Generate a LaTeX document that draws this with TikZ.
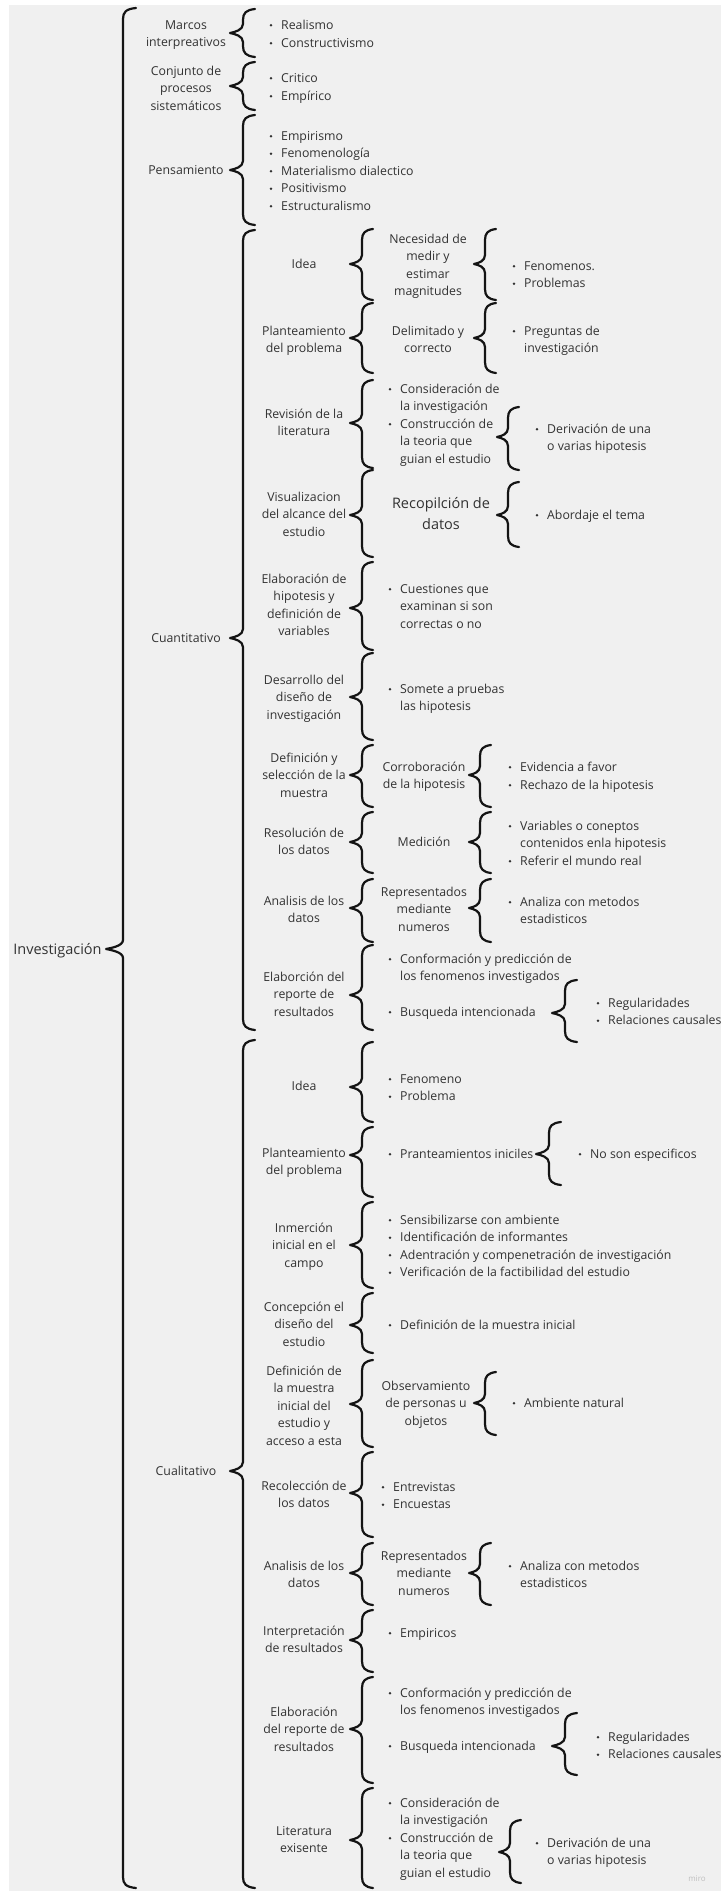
\documentclass[tikz,border=0pt]{standalone}
\usepackage{fontspec}
\setmainfont{Open Sans}
\definecolor{bgc}{RGB}{240,240,240}
\definecolor{txtc}{RGB}{50,50,50}
\definecolor{brcc}{RGB}{20,20,20}
\tikzset{
  lbl/.style={inner sep=0pt, text=txtc, font=\fontsize{12.3}{17.5}\selectfont},
  biglbl/.style={inner sep=0pt, text=txtc, font=\fontsize{14.5}{21}\selectfont},
  brc/.style={draw=brcc, line width=2.2pt, line cap=round, line join=round},
  dot/.style={circle, fill=txtc, inner sep=0pt, minimum size=2.6pt},
}
% centred multi-line label: name, x, first baseline, {line,line,...}
\newcommand\mylabs[4]{\foreach \t [count=\i] in {#4}{\node[lbl,anchor=base] (#1\i) at (#2,{#3+(\i-1)*17.5}) {\t};}}
% bullet item: name, text x, baseline, text
\newcommand\mybul[4]{\node[lbl,anchor=base west] (#1) at (#2,#3) {#4};\node[dot] (#1b) at (#2-10,#3-3.8) {};}
% continuation line
\newcommand\mycont[4]{\node[lbl,anchor=base west] (#1) at (#2,#3) {#4};}
% brace: name, v, y1, ytip, y2, depth, hook
\newcommand\mybrace[7]{%
  \draw[brc] (#2+#7,#3) .. controls (#2+3,#3+1) and (#2,#3+4) .. (#2,#3+11)
    -- (#2,#4-9) .. controls (#2,#4-3) and (#2-#6+5,#4-1) .. (#2-#6,#4)
    .. controls (#2-#6+5,#4+1) and (#2,#4+3) .. (#2,#4+9)
    -- (#2,#5-11) .. controls (#2,#5-4) and (#2+3,#5-1) .. (#2+#7,#5);
  \coordinate (#1) at (#2-#6,#4);}
\begin{document}
\begin{tikzpicture}[x=1pt,y=-1pt]
\useasboundingbox (0,0) rectangle (721,1891);
\fill[white] (0,0) rectangle (721,1891);
\fill[bgc] (9,5) rectangle (721,1891);

% ---- root ----
\node[biglbl,anchor=base] (inv) at (57.5,954) {Investigación};
\mybrace{binv}{123}{8}{949}{1888}{17}{13}

% ---- column 1 ----
\mylabs{mar}{186}{29}{Marcos,interpreativos}
\mybrace{bmar}{243}{9}{33}{57}{13}{12}
\mybul{i1}{281}{29}{Realismo}
\mybul{i2}{281}{47}{Constructivismo}

\mylabs{con}{186}{75}{Conjunto de,procesos,sistemáticos}
\mybrace{bcon}{243}{62}{86}{110}{13}{12}
\mybul{i3}{281}{82}{Critico}
\mybul{i4}{281}{100}{Empírico}

\mylabs{pen}{186}{174}{Pensamiento}
\mybrace{bpen}{243}{115}{170}{225}{13}{12}
\mybul{i5}{281}{140}{Empirismo}
\mybul{i6}{281}{157.5}{Fenomenología}
\mybul{i7}{281}{175}{Materialismo dialectico}
\mybul{i8}{281}{192.5}{Positivismo}
\mybul{i9}{281}{210}{Estructuralismo}

\mylabs{cuant}{186}{642}{Cuantitativo}
\mybrace{bcuant}{243}{230}{638}{1030}{13}{12}

\mylabs{cual}{186}{1475}{Cualitativo}
\mybrace{bcual}{243}{1040}{1471}{1888}{13}{12}

% ================= CUANTITATIVO =================
% 1 Idea
\mylabs{qa}{304}{268}{Idea}
\mybrace{bqa}{362}{229}{264}{300}{12}{11}
\mylabs{qam}{428}{243}{Necesidad de,medir y,estimar,magnitudes}
\mybrace{bqam}{485}{229}{264}{300}{11}{11}
\mybul{qa1}{524}{270}{Fenomenos.}
\mybul{qa2}{524}{287.5}{Problemas}

% 2 Planteamiento
\mylabs{qb}{304}{335}{Planteamiento,del problema}
\mybrace{bqb}{362}{303}{338}{373}{12}{11}
\mylabs{qbm}{428}{335}{Delimitado y,correcto}
\mybrace{bqbm}{485}{303}{338}{373}{11}{11}
\mybul{qb1}{524}{335}{Preguntas de}
\mycont{qb2}{524}{352.5}{investigación}

% 3 Revision
\mylabs{qc}{304}{418}{Revisión de la,literatura}
\mybrace{bqc}{362}{380}{423}{468}{12}{11}
\mybul{qc1}{400}{393}{Consideración de}
\mycont{qc2}{400}{410.5}{la investigación}
\mybul{qc3}{400}{428}{Construcción de}
\mycont{qc4}{400}{445.5}{la teoria que}
\mycont{qc5}{400}{463}{guian el estudio}
\mybrace{bqcm}{508}{407}{437}{470}{11}{11}
\mybul{qc6}{547}{433}{Derivación de una}
\mycont{qc7}{547}{450.5}{o varias hipotesis}

% 4 Visualizacion
\mylabs{qd}{304}{501}{Visualizacion,del alcance del,estudio}
\mybrace{bqd}{362}{470}{515}{557}{12}{11}
\node[biglbl,anchor=base] (qdm1) at (441,508) {Recopilción de};
\node[biglbl,anchor=base] (qdm2) at (441,529) {datos};
\mybrace{bqdm}{508}{482}{515}{547}{11}{11}
\mybul{qd1}{547}{519}{Abordaje el tema}

% 5 Elaboracion de hipotesis
\mylabs{qe}{304}{583}{Elaboración de,hipotesis y,definición de,variables}
\mybrace{bqe}{362}{562}{608}{650}{12}{11}
\mybul{qe1}{400}{593}{Cuestiones que}
\mycont{qe2}{400}{610.5}{examinan si son}
\mycont{qe3}{400}{628}{correctas o no}

% 6 Desarrollo
\mylabs{qf}{304}{684}{Desarrollo del,diseño de,investigación}
\mybrace{bqf}{362}{653}{697}{740}{12}{11}
\mybul{qf1}{400}{693}{Somete a pruebas}
\mycont{qf2}{400}{710.5}{las hipotesis}

% 7 Definicion y seleccion
\mylabs{qg}{304}{762}{Definición y,selección de la,muestra}
\mybrace{bqg}{362}{745}{775}{807}{12}{11}
\mylabs{qgm}{424}{771}{Corroboración,de la hipotesis}
\mybrace{bqgm}{480}{745}{775}{807}{11}{11}
\mybul{qg1}{520}{771}{Evidencia a favor}
\mybul{qg2}{520}{789}{Rechazo de la hipotesis}

% 8 Resolucion
\mylabs{qh}{304}{837}{Resolución de,los datos}
\mybrace{bqh}{362}{812}{842}{873}{12}{11}
\mylabs{qhm}{424}{846}{Medición}
\mybrace{bqhm}{480}{812}{842}{873}{11}{11}
\mybul{qh1}{520}{830}{Variables o coneptos}
\mycont{qh2}{520}{847.5}{contenidos enla hipotesis}
\mybul{qh3}{520}{865}{Referir el mundo real}

% 9 Analisis
\mylabs{qi}{304}{905}{Analisis de los,datos}
\mybrace{bqi}{362}{879}{908}{942}{12}{11}
\mylabs{qim}{424}{896}{Representados,mediante,numeros}
\mybrace{bqim}{480}{879}{908}{942}{11}{11}
\mybul{qi1}{520}{906}{Analiza con metodos}
\mycont{qi2}{520}{923.5}{estadisticos}

% 10 Elaborcion del reporte
\mylabs{qj}{304}{981}{Elaborción del,reporte de,resultados}
\mybrace{bqj}{362}{945}{995}{1030}{12}{11}
\mybul{qj1}{400}{963}{Conformación y predicción de}
\mycont{qj2}{400}{980.5}{los fenomenos investigados}
\mybul{qj3}{400}{1016}{Busqueda intencionada}
\mybrace{bqjm}{565}{980}{1013}{1042}{13}{12}
\mybul{qj4}{608}{1007}{Regularidades}
\mybul{qj5}{608}{1024.5}{Relaciones causales}

% ================= CUALITATIVO =================
% 1 Idea
\mylabs{la}{304}{1090}{Idea}
\mybrace{bla}{362}{1042}{1087}{1122}{12}{11}
\mybul{la1}{400}{1083}{Fenomeno}
\mybul{la2}{400}{1100.5}{Problema}

% 2 Planteamiento
\mylabs{lb}{304}{1157}{Planteamiento,del problema}
\mybrace{blb}{362}{1127}{1155}{1197}{12}{11}
\mybul{lb1}{400}{1158}{Pranteamientos iniciles}
\mybrace{blbm}{549}{1122}{1154}{1185}{13}{12}
\mybul{lb2}{590}{1158}{No son especificos}

% 3 Inmercion
\mylabs{lc}{304}{1232}{Inmerción,inicial en el,campo}
\mybrace{blc}{362}{1202}{1245}{1288}{12}{11}
\mybul{lc1}{400}{1224}{Sensibilizarse con ambiente}
\mybul{lc2}{400}{1241.5}{Identificación de informantes}
\mybul{lc3}{400}{1259}{Adentración y compenetración de investigación}
\mybul{lc4}{400}{1276.5}{Verificación de la factibilidad del estudio}

% 4 Concepcion
\mylabs{ld}{304}{1311}{Concepción el,diseño del,estudio}
\mybrace{bld}{362}{1293}{1325}{1353}{12}{11}
\mybul{ld1}{400}{1329}{Definición de la muestra inicial}

% 5 Definicion de la muestra
\mylabs{le}{304}{1375}{Definición de,la muestra,inicial del,estudio y,acceso a esta}
\mybrace{ble}{362}{1360}{1404}{1447}{12}{11}
\mylabs{lem}{426}{1390}{Observamiento,de personas u,objetos}
\mybrace{blem}{485}{1372}{1403}{1435}{11}{11}
\mybul{le1}{524}{1407}{Ambiente natural}

% 6 Recoleccion
\mylabs{lf}{304}{1490}{Recolección de,los datos}
\mybrace{blf}{362}{1452}{1493}{1537}{12}{11}
\mybul{lf1}{393}{1491}{Entrevistas}
\mybul{lf2}{393}{1508.5}{Encuestas}

% 7 Analisis
\mylabs{lg}{304}{1570}{Analisis de los,datos}
\mybrace{blg}{362}{1543}{1573}{1605}{12}{11}
\mylabs{lgm}{424}{1560}{Representados,mediante,numeros}
\mybrace{blgm}{480}{1543}{1573}{1605}{11}{11}
\mybul{lg1}{520}{1570}{Analiza con metodos}
\mycont{lg2}{520}{1587.5}{estadisticos}

% 8 Interpretacion
\mylabs{lh}{304}{1635}{Interpretación,de resultados}
\mybrace{blh}{362}{1610}{1640}{1672}{12}{11}
\mybul{lh1}{400}{1637}{Empiricos}

% 9 Elaboracion del reporte
\mylabs{li}{304}{1716}{Elaboración,del reporte de,resultados}
\mybrace{bli}{362}{1677}{1729}{1783}{12}{11}
\mybul{li1}{400}{1697}{Conformación y predicción de}
\mycont{li2}{400}{1714.5}{los fenomenos investigados}
\mybul{li3}{400}{1750}{Busqueda intencionada}
\mybrace{blim}{565}{1713}{1746}{1775}{13}{12}
\mybul{li4}{608}{1741}{Regularidades}
\mybul{li5}{608}{1758.5}{Relaciones causales}

% 10 Literatura
\mylabs{lj}{304}{1835}{Literatura,exisente}
\mybrace{blj}{362}{1788}{1840}{1888}{12}{11}
\mybul{lj1}{400}{1807}{Consideración de}
\mycont{lj2}{400}{1824.5}{la investigación}
\mybul{lj3}{400}{1842}{Construcción de}
\mycont{lj4}{400}{1859.5}{la teoria que}
\mycont{lj5}{400}{1877}{guian el estudio}
\mybrace{bljm}{510}{1820}{1852}{1883}{11}{11}
\mybul{lj6}{547}{1847}{Derivación de una}
\mycont{lj7}{547}{1864.5}{o varias hipotesis}

\node[inner sep=0pt, anchor=base, text=black!25, font=\fontsize{8}{9}\selectfont] (miro) at (697,1881) {miro};
\end{tikzpicture}
\end{document}
